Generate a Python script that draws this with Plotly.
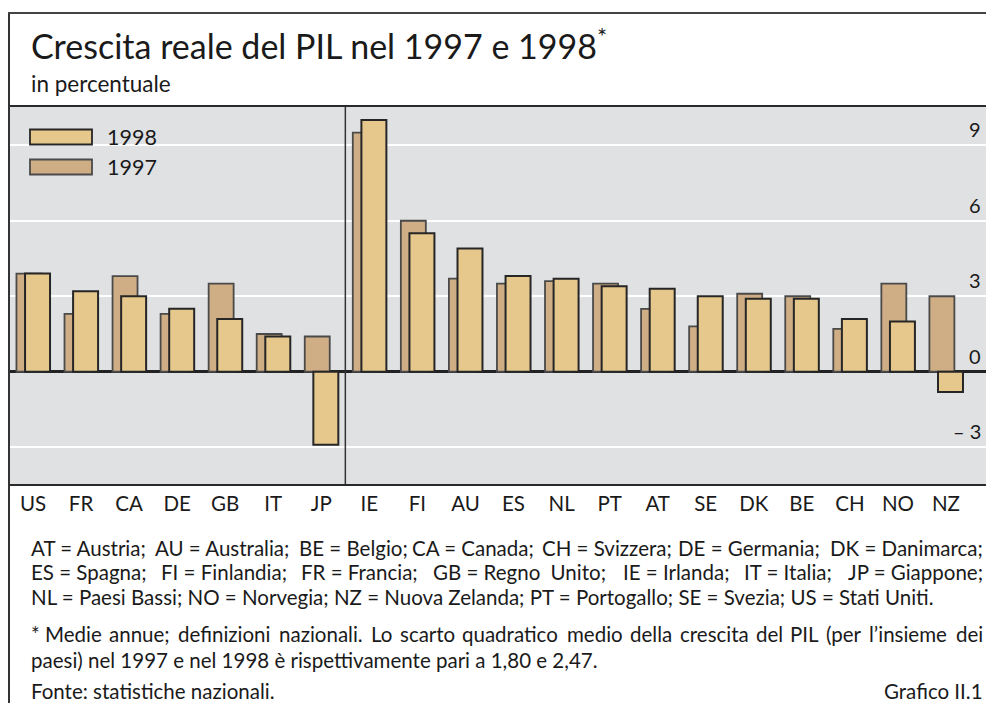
import plotly.graph_objects as go

# ---------------- data ----------------
countries = ["US", "FR", "CA", "DE", "GB", "IT", "JP",
             "IE", "FI", "AU", "ES", "NL", "PT", "AT", "SE", "DK", "BE", "CH", "NO", "NZ"]
g1997 = [3.9, 2.3, 3.8, 2.3, 3.5, 1.5, 1.4,
         9.5, 6.0, 3.7, 3.5, 3.6, 3.5, 2.5, 1.8, 3.1, 3.0, 1.7, 3.5, 3.0]
g1998 = [3.9, 3.2, 3.0, 2.5, 2.1, 1.4, -2.9,
         10.0, 5.5, 4.9, 3.8, 3.7, 3.4, 3.3, 3.0, 2.9, 2.9, 2.1, 2.0, -0.8]
n_g7 = 7
y_ticks = [-3, 0, 3, 6, 9]
y_ticktext = ["\u2013 3", "0", "3", "6", "9"]

legend_items = ["1998", "1997"]

key_line1 = ["AT = Austria;", "AU = Australia;", "BE = Belgio;", "CA = Canada;",
             "CH = Svizzera;", "DE = Germania;", "DK = Danimarca;"]
key_line2 = ["ES = Spagna;", "FI = Finlandia;", "FR = Francia;", "GB = Regno\u2002Unito;",
             "IE = Irlanda;", "IT = Italia;", "JP = Giappone;"]
key_line3 = "NL = Paesi Bassi; NO = Norvegia; NZ = Nuova Zelanda; PT = Portogallo; SE = Svezia; US = Stati Uniti."
note_line1 = ("* Medie annue; definizioni nazionali. Lo scarto quadratico medio della crescita "
              "del PIL (per l\u2019insieme dei")
note_line2 = "paesi) nel 1997 e nel 1998 \u00e8 rispettivamente pari a 1,80 e 2,47."
source = "Fonte: statistiche nazionali."
chart_id = "Grafico II.1"

# ---------------- style ----------------
OFF = 8                      # page body margin of the html page
W, H = 978, 695
L, R, T, B = 1, 0, 99, 219
FONT = "Lato"
TXT = "#1a1a1a"
C98 = "#E6C88C"
C97 = "#CFAD85"
BG = "#E0E1E3"
FS = 20.5
X_LEFT, X_RIGHT = 31, 983    # text block edges (screen px)
PAD = 2                      # annotation inner padding (px)

# rough advance widths (em) for the body font, used only to justify text lines
_W = dict(zip("ABCDEFGHIJKLMNOPQRSTUVWXYZ",
              [.68, .63, .66, .74, .56, .54, .71, .75, .28, .38, .65, .50, .90, .75, .79, .60,
               .79, .63, .54, .58, .72, .68, 1.0, .65, .62, .62]))
_W.update(zip("abcdefghijklmnopqrstuvwxyz",
              [.49, .55, .46, .55, .51, .32, .49, .55, .24, .24, .49, .24, .82, .55, .55, .55,
               .55, .36, .42, .35, .55, .49, .74, .48, .49, .44]))
_W.update({" ": .19, ";": .26, "=": .58, ".": .22, ",": .22, "(": .30, ")": .30, "\u2019": .2,
           "*": .38, "\u00e8": .51, "\u2002": .5, ":": .24})
for d in "0123456789":
    _W[d] = .58


def text_w(s, size):
    return sum(_W.get(c, .55) for c in s) * size * 1.05


def px(x):   # screen x -> paper
    return (x - OFF - L) / (W - L - R)


def py(y):   # screen y -> paper
    return (H - B - (y - OFF)) / (H - T - B)


def justify(tokens, y, size):
    widths = [text_w(t, size) for t in tokens]
    gap = (X_RIGHT - X_LEFT - sum(widths)) / (len(tokens) - 1)
    out, x = [], X_LEFT
    for i, (t, w) in enumerate(zip(tokens, widths)):
        if i == len(tokens) - 1:
            out.append(dict(text=t, x=px(X_RIGHT + PAD), y=py(y), xanchor="right", yanchor="middle",
                            font=dict(size=size, color=TXT)))
        else:
            out.append(dict(text=t, x=px(x - PAD), y=py(y), xanchor="left", yanchor="middle",
                            font=dict(size=size, color=TXT)))
        x += w + gap
    return out


xs = list(range(len(countries)))

fig = go.Figure()
fig.add_trace(go.Bar(x=xs, y=g1997, name="1997", width=0.52, offset=-0.345,
                     marker=dict(color=C97, line=dict(color="#4a4a4a", width=1.8))))
fig.add_trace(go.Bar(x=xs, y=g1998, name="1998", width=0.52, offset=-0.166,
                     marker=dict(color=C98, line=dict(color="#262626", width=2))))

fig.update_layout(
    width=W, height=H, margin=dict(l=L, r=R, t=T, b=B, autoexpand=False),
    paper_bgcolor="white", plot_bgcolor=BG, barmode="overlay", showlegend=False,
    font=dict(family=FONT, color=TXT),
    xaxis=dict(range=[-0.5, 19.833], tickmode="array", tickvals=xs, ticktext=countries,
               tickfont=dict(size=20.5, color=TXT), showgrid=False, zeroline=False,
               showline=True, linecolor="#2a2a2a", linewidth=2, mirror=True, ticks="",
               fixedrange=True),
    yaxis=dict(range=[-4.46, 10.52], tickmode="array", tickvals=y_ticks,
               showticklabels=False,
               showgrid=True, gridcolor="white", gridwidth=2,
               zeroline=True, zerolinecolor="#222222", zerolinewidth=2.5,
               showline=False, ticks="", fixedrange=True),
)

shapes = []
# outer frame: left and top
shapes.append(dict(type="line", xref="paper", yref="paper", x0=px(9), x1=px(9), y0=py(13), y1=py(720),
                   line=dict(color="#333333", width=2)))
shapes.append(dict(type="line", xref="paper", yref="paper", x0=px(8), x1=px(1000), y0=py(13), y1=py(13),
                   line=dict(color="#444444", width=2)))
# divider between G7 and other countries
shapes.append(dict(type="line", xref="x", yref="paper", x0=n_g7 - 0.5, x1=n_g7 - 0.5, y0=0, y1=1,
                   line=dict(color="#333333", width=1.5)))
# legend swatches
for i, (col, lc) in enumerate(zip([C98, C97], ["#262626", "#4a4a4a"])):
    yc = 137 + 30 * i
    shapes.append(dict(type="rect", xref="paper", yref="paper", x0=px(30), x1=px(92),
                       y0=py(yc - 7.5), y1=py(yc + 7.5), fillcolor=col, line=dict(color=lc, width=1.8)))
fig.update_layout(shapes=shapes)

ann = []
ann.append(dict(text="Crescita reale del PIL nel 1997 e 1998<sup>*</sup>", x=px(29), y=py(44),
                xanchor="left", yanchor="middle", font=dict(size=34, color=TXT)))
ann.append(dict(text="in percentuale", x=px(29), y=py(84), xanchor="left", yanchor="middle",
                font=dict(size=22.5, color=TXT)))
for i, lab in enumerate(legend_items):
    ann.append(dict(text=lab, x=px(105), y=py(137 + 30 * i), xanchor="left", yanchor="middle",
                    font=dict(size=21.5, color=TXT)))
# y tick labels, placed through the y axis scale
for v, t in zip(y_ticks, y_ticktext):
    ann.append(dict(text=t, xref="paper", yref="y", x=1, y=v, xanchor="right", yanchor="middle",
                    xshift=-3, yshift=16, font=dict(size=20, color=TXT)))
ann += justify(key_line1, 548, FS)
ann += justify(key_line2, 572, FS)
ann.append(dict(text=key_line3, x=px(X_LEFT - PAD), y=py(597), xanchor="left", yanchor="middle",
                font=dict(size=FS, color=TXT)))
ann += justify(note_line1.split(" "), 634, FS)
ann.append(dict(text=note_line2, x=px(X_LEFT - PAD), y=py(660), xanchor="left", yanchor="middle",
                font=dict(size=FS, color=TXT)))
ann.append(dict(text=source, x=px(X_LEFT - PAD), y=py(691), xanchor="left", yanchor="middle",
                font=dict(size=FS, color=TXT)))
ann.append(dict(text=chart_id, x=px(X_RIGHT + PAD), y=py(691), xanchor="right", yanchor="middle",
                font=dict(size=FS, color=TXT)))
for a in ann:
    a.setdefault("xref", "paper")
    a.setdefault("yref", "paper")
    a["showarrow"] = False
fig.update_layout(annotations=ann)

fig.write_html("out.html")
